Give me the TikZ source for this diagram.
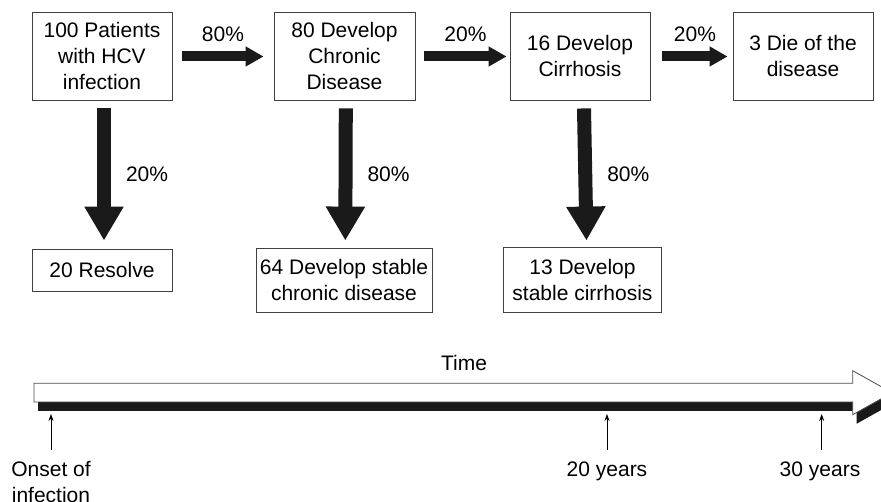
\documentclass[tikz,border=0pt]{standalone}
\usepackage{fontspec}
\setmainfont{Liberation Sans}
\usetikzlibrary{arrows.meta,calc}
\definecolor{ink}{HTML}{1A1A1A}
\begin{document}
\begin{tikzpicture}[x=1pt,y=-1pt,
  every node/.style={font=\fontsize{21}{26}\selectfont, inner sep=0pt, align=center},
  stage/.style={draw=black!75, line width=0.9pt, fill=white, minimum height=88pt, minimum width=140pt},
  outcome/.style={draw=black!75, line width=0.9pt},
  fatright/.style={draw=ink, line width=10pt, -{Triangle[length=18pt,width=19pt]}},
  fatdown/.style={draw=ink, line width=14pt, -{Triangle[length=34pt,width=37pt]}},
  tick/.style={draw=black, line width=0.8pt, -{Stealth[length=7pt,width=5pt]}},
  timebar/.style={fill=white, draw=black!70, line width=0.8pt},
  timeshadow/.style={fill=ink}
]
\useasboundingbox (0,0) rectangle (881,502);
\clip (0,0) rectangle (881,502);

% disease stages
\node[stage] (hcv) at (102,56) {100 Patients\\with HCV\\infection};
\node[stage, minimum width=141pt] (chronic) at (344.5,56) {80 Develop\\Chronic\\Disease};
\node[stage] (cirr) at (580,56) {16 Develop\\Cirrhosis};
\node[stage] (death) at (803,56) {3 Die of the\\disease};

% outcomes
\node[outcome, minimum width=140pt, minimum height=42pt] (resolve) at (102,270) {20 Resolve};
\node[outcome, minimum width=176pt, minimum height=64pt] (stablechr) at (344,280) {64 Develop stable\\chronic disease};
\node[outcome, minimum width=158pt, minimum height=65pt] (stablecir) at (582.5,279.5) {13 Develop\\stable cirrhosis};

% progression arrows
\draw[fatright] ($(hcv.east)+(10,0.5)$) -- node[yshift=22.5pt]{80\%} ($(chronic.west)+(-10,0.5)$);
\draw[fatright] ($(chronic.east)+(9,0.5)$) -- node[yshift=22.5pt]{20\%} ($(cirr.west)+(-3,0.5)$);
\draw[fatright] ($(cirr.east)+(12,0.5)$) -- node[yshift=22.5pt]{20\%} ($(death.west)+(-5,0.5)$);

\draw[fatdown] ($(hcv.south)+(2,8)$) -- node[anchor=west, xshift=15pt]{20\%} ($(resolve.north)+(2,-8)$);
\draw[fatdown] ($(chronic.south)+(1.3,8)$) -- node[anchor=west, xshift=15pt]{80\%} ($(stablechr.north)+(1.3,-7)$);
\draw[fatdown] ($(cirr.south)+(4,8)$) -- node[anchor=west, xshift=15pt]{80\%} ($(stablecir.north)+(4,-6)$);

% time axis: white arrow with a dark drop shadow
\path[timeshadow, shift={(4,9)}] (34,383.3) -- (852.7,383.3) -- (852.7,370.7) -- (892,392.7)
  -- (852.7,414.7) -- (852.7,402) -- (34,402) -- cycle;
\path[timebar] (34,383.3) -- (852.7,383.3) -- (852.7,370.7) -- (892,392.7)
  -- (852.7,414.7) -- (852.7,402) -- (34,402) -- cycle;
\node[anchor=base] (time) at (464,370.7) {Time};

% milestones
\coordinate (t0) at (51,414);
\coordinate (t20) at (607,414);
\coordinate (t30) at (821.7,414);
\node[anchor=north] (onset) at (51,461.5) {Onset of\\infection};
\node[anchor=north] (y20) at (607,461.5) {20 years};
\node[anchor=north] (y30) at (820,461.5) {30 years};
\draw[tick, shorten <=11.5pt] (onset.north) -- (t0);
\draw[tick, shorten <=11.5pt] (y20.north -| t20) -- (t20);
\draw[tick, shorten <=11.5pt] (y30.north -| t30) -- (t30);
\end{tikzpicture}
\end{document}
